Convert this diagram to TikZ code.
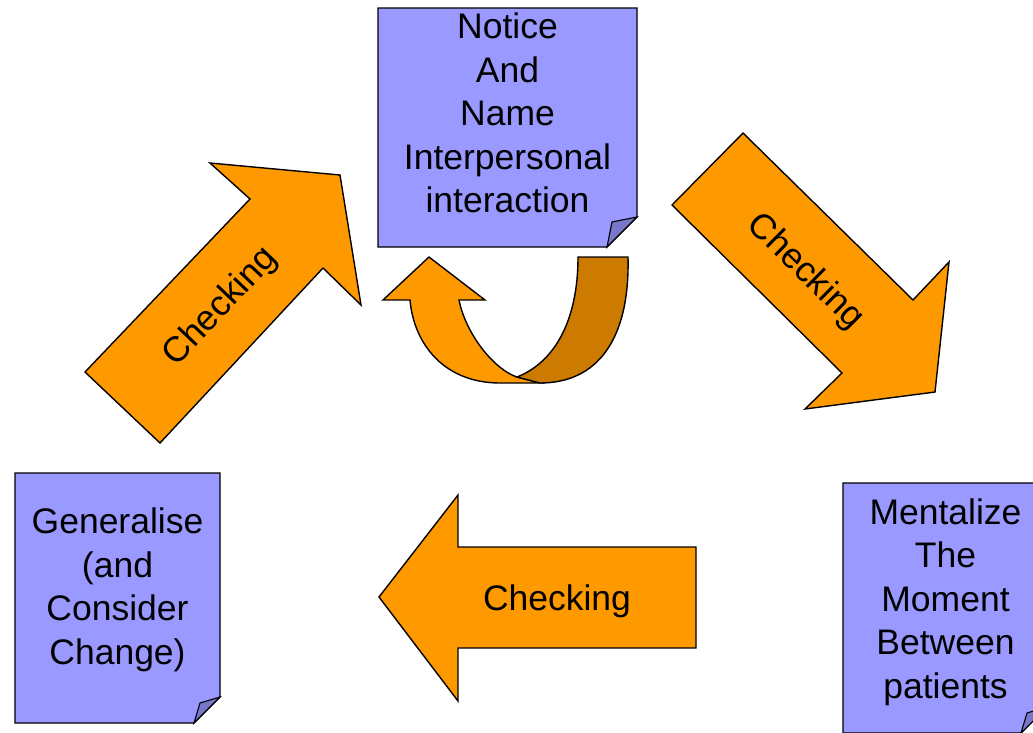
\documentclass[tikz,border=0pt]{standalone}
\usepackage{fontspec}
\setmainfont{Liberation Sans}
\definecolor{noteblue}{HTML}{9999FF}
\definecolor{foldblue}{HTML}{7777CC}
\definecolor{arroworange}{HTML}{FF9900}
\definecolor{arrowshade}{HTML}{CC7A00}
% sticky note: corners (x1,y1)-(x2,y2), fold size, fold depth
\newcommand{\stickynote}[6]{%
  \draw[notebody] (#1,#2) -- (#3,#2) -- (#3,#4-#5) -- (#3-#5,#4) -- (#1,#4) -- cycle;
  \draw[notefold] (#3,#4-#5) -- (#3-#6,#4-#6) -- (#3-#5,#4) -- cycle;
}
\begin{document}
\begin{tikzpicture}[x=1pt,y=-1pt,
  notebody/.style={fill=noteblue,draw=black,line width=1.3pt,line join=miter},
  notefold/.style={fill=foldblue,draw=black,line width=1.1pt,line join=miter},
  blockarrow/.style={fill=arroworange,draw=black,line width=1.4pt,line join=miter},
  shadearrow/.style={fill=arrowshade,draw=black,line width=1.4pt,line join=miter},
  lbl/.style={inner sep=0pt,align=center,font=\fontsize{35.5}{43.5}\selectfont}]
\useasboundingbox (0,0) rectangle (1033,732);
\clip (0,0) rectangle (1033,732);

% the three notes
\stickynote{378}{8}{637}{247}{30}{25}
\stickynote{15}{473}{220}{723}{26}{20}
\stickynote{843}{483}{1047}{733}{26}{20}

\node[lbl] (notice) at (507.5,113) {Notice\\And\\Name\\Interpersonal\\interaction};
\node[lbl] (generalise) at (117.5,590) {Generalise\\(and\\Consider\\Change)};
\node[lbl] (mentalize) at (945.5,602) {Mentalize\\The\\Moment\\Between\\patients};

% block arrow up-right
\draw[blockarrow] (85,372) -- (250,199) -- (210,163) -- (340,175) -- (361,305)
  -- (323,268) -- (160,443) -- cycle;
\node[lbl,rotate=46.5] (checkA) at (221,307) {Checking};

% block arrow down-right
\draw[blockarrow] (743,133) -- (913,300) -- (949,262) -- (935,392) -- (805,409)
  -- (842,373) -- (672,205) -- cycle;
\node[lbl,rotate=-44.6] (checkB) at (805,272) {Checking};

% block arrow pointing left
\draw[blockarrow] (379,597) -- (458,495) -- (458,547) -- (696,547) -- (696,648)
  -- (458,648) -- (458,701) -- cycle;
\node[lbl] (checkC) at (557,601) {Checking};

% U-turn arrow: front band with head, then the shaded back band
\draw[blockarrow] (410,300) .. controls (414,345) and (445,383) .. (500,383)
  -- (540,383) -- (517,377) .. controls (495,370) and (466,335) .. (459,300)
  -- (485,300) -- (429,257) -- (383,300) -- cycle;
\draw[shadearrow] (517,377) .. controls (555,362) and (578,320) .. (578,257)
  -- (628,257) .. controls (630,340) and (597,383) .. (540,383) -- cycle;
\end{tikzpicture}
\end{document}
